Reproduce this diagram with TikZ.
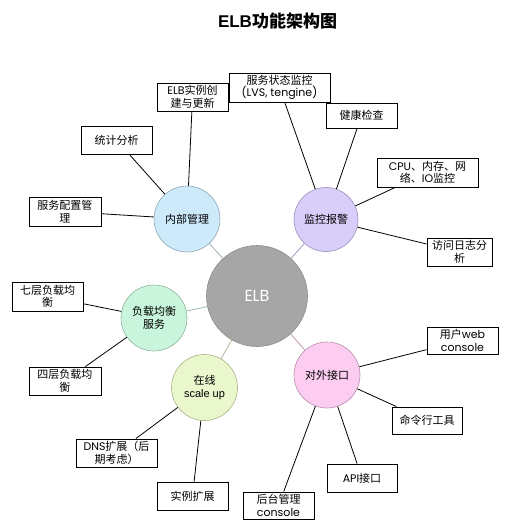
\documentclass[tikz,border=0pt]{standalone}
\usepackage{fontspec}
\setmainfont{Noto Sans CJK SC}
\newfontfamily\lat{Poppins}
\newfontfamily\arial{Liberation Sans}
\definecolor{elbfill}{HTML}{A6A6A6}
\definecolor{elbline}{HTML}{8E8E8E}
\definecolor{bluefill}{HTML}{CDEAFB}
\definecolor{blueline}{HTML}{8FA6B3}
\definecolor{purplefill}{HTML}{D9CDFA}
\definecolor{purpleline}{HTML}{9A8FB8}
\definecolor{greenfill}{HTML}{C9F5DC}
\definecolor{greenline}{HTML}{8FB39E}
\definecolor{yellowfill}{HTML}{EAF7CC}
\definecolor{yellowline}{HTML}{A8B38A}
\definecolor{pinkfill}{HTML}{FCCDF0}
\definecolor{pinkline}{HTML}{B58FAB}
\tikzset{
  box/.style={draw=black, line width=0.9pt, fill=white, align=center, inner sep=0pt,
    font=\fontsize{11}{12.5}\selectfont},
  hub/.style={circle, line width=0.6pt, minimum size=66pt, inner sep=0pt, align=center,
    font=\fontsize{11}{13}\selectfont},
  link/.style={draw=black, line width=0.8pt},
  spoke/.style={line width=0.7pt},
}
\begin{document}
\begin{tikzpicture}[x=1pt,y=-1pt]
\useasboundingbox (0,0) rectangle (510,531);
% title
\node[font=\fontsize{17}{20}\selectfont\bfseries] (title) at (277.5,21) {{\arial ELB}功能架构图};
% centre
\node[circle, fill=elbfill, draw=elbline, line width=0.6pt, minimum size=101pt, inner sep=0pt,
  text=white, font=\lat\fontsize{16}{18}\selectfont] (elb) at (257,296) {ELB};
% hubs
\node[hub, fill=bluefill, draw=blueline] (nb) at (187,219) {内部管理};
\node[hub, fill=purplefill, draw=purpleline, minimum size=64pt] (jk) at (326,219.5) {监控报警};
\node[hub, fill=greenfill, draw=greenline] (fz) at (154,318) {负载均衡\\服务};
\node[hub, fill=yellowfill, draw=yellowline] (sc) at (204.5,387.5) {在线\\{\arial scale up}};
\node[hub, fill=pinkfill, draw=pinkline] (dw) at (327,375) {对外接口};
% boxes
\node[box, minimum width=71pt, minimum height=28pt] (b1) at (192.5,97) {{\lat ELB}实例创\\建与更新};
\node[box, minimum width=101pt, minimum height=29pt] (b2) at (279.5,87.5) {服务状态监控\\{\lat (LVS, tengine)}};
\node[box, minimum width=71pt, minimum height=25pt] (b3) at (361.5,115.5) {健康检查};
\node[box, minimum width=101pt, minimum height=29pt] (b4) at (427.5,172.5) {{\lat CPU}、内存、网\\络、{\lat IO}监控};
\node[box, minimum width=65pt, minimum height=28pt] (b5) at (459.5,252) {访问日志分\\析};
\node[box, minimum width=71pt, minimum height=28pt] (b6) at (116.5,140) {统计分析};
\node[box, minimum width=72pt, minimum height=29pt] (b7) at (65,211.5) {服务配置管\\理};
\node[box, minimum width=71pt, minimum height=29pt] (b8) at (47.5,296.5) {七层负载均\\衡};
\node[box, minimum width=72pt, minimum height=28pt] (b9) at (65,381) {四层负载均\\衡};
\node[box, minimum width=81pt, minimum height=28pt] (b10) at (116.5,453) {{\lat DNS}扩展（后\\期考虑）};
\node[box, minimum width=71pt, minimum height=28pt] (b11) at (192.5,496) {实例扩展};
\node[box, minimum width=71pt, minimum height=27pt] (b12) at (462.5,340.5) {用户{\lat web}\\{\lat console}};
\node[box, minimum width=70pt, minimum height=27pt] (b13) at (427,420.5) {命令行工具};
\node[box, minimum width=70pt, minimum height=28pt] (b14) at (362,478) {{\lat API}接口};
\node[box, minimum width=71pt, minimum height=27pt] (b15) at (278.5,505.5) {后台管理\\{\lat console}};
% spokes from centre
\draw[spoke, blueline] (elb) -- (nb);
\draw[spoke, purpleline] (elb) -- (jk);
\draw[spoke, greenline] (elb) -- (fz);
\draw[spoke, yellowline] (elb) -- (sc);
\draw[spoke, pinkline] (elb) -- (dw);
% links
\draw[link] (nb) -- (b1);
\draw[link] (nb) -- (b6);
\draw[link] (nb) -- (b7);
\draw[link] (jk) -- (b2);
\draw[link] (jk) -- (b3);
\draw[link] (jk) -- (b4);
\draw[link] (jk) -- (b5);
\draw[link] (fz) -- (b8);
\draw[link] (fz) -- (b9);
\draw[link] (sc) -- (b10);
\draw[link] (sc) -- (b11);
\draw[link] (dw) -- (b12);
\draw[link] (dw) -- (b13);
\draw[link] (dw) -- (b14);
\draw[link] (dw) -- (b15);
\end{tikzpicture}
\end{document}
